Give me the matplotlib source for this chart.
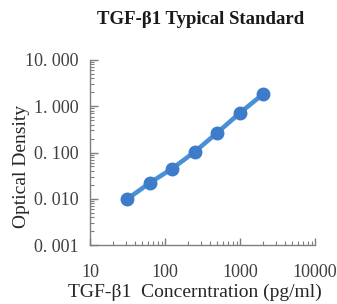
import matplotlib
matplotlib.use("Agg")
import matplotlib.pyplot as plt
from matplotlib.ticker import FixedLocator, FixedFormatter, LogLocator, NullFormatter

concentration = [31.25, 62.5, 125, 250, 500, 1000, 2000]
od = [0.0098, 0.022, 0.045, 0.104, 0.27, 0.72, 1.8]

y_ticks = [0.001, 0.01, 0.1, 1, 10]
y_labels = ["0. 001", "0. 010", "0. 100", "1. 000", "10. 000"]
x_ticks = [10, 100, 1000, 10000]
x_labels = ["10", "100", "1000", "10000"]

title = "TGF-\u03b21 Typical Standard"
xlabel = "TGF-\u03b21  Concerntration (pg/ml)"
ylabel = "Optical Density"

plt.rcParams['font.family'] = ['Liberation Serif', 'DejaVu Serif']

fig = plt.figure(figsize=(3.37, 3.04), dpi=100)
ax = fig.add_axes([90/337, 1-245/304, 225/337, 185/304])

ax.plot(concentration, od, color='#4a90d9', lw=3.3, marker='o', ms=9,
        mfc='#3d7cc9', mec='#3d7cc9', solid_capstyle='round', zorder=3)

ax.set_xscale('log')
ax.set_yscale('log')
ax.set_xlim(10, 10000)
ax.set_ylim(0.001, 10)

ax.xaxis.set_major_locator(FixedLocator(x_ticks))
ax.xaxis.set_major_formatter(FixedFormatter(x_labels))
ax.yaxis.set_major_locator(FixedLocator(y_ticks))
ax.yaxis.set_major_formatter(FixedFormatter(y_labels))
ax.xaxis.set_minor_locator(LogLocator(base=10, subs=range(2, 10)))
ax.yaxis.set_minor_locator(LogLocator(base=10, subs=range(2, 10)))
ax.xaxis.set_minor_formatter(NullFormatter())
ax.yaxis.set_minor_formatter(NullFormatter())

for s in ['top', 'right']:
    ax.spines[s].set_visible(False)
for s in ['left', 'bottom']:
    ax.spines[s].set_color('#7f7f7f')
    ax.spines[s].set_linewidth(1.0)

ax.tick_params(which='major', direction='in', length=6, width=1, color='#7f7f7f',
               labelsize=13, labelcolor='#404040', pad=8)
ax.tick_params(which='minor', direction='in', length=3, width=0.8, color='#7f7f7f')
ax.tick_params(axis='x', which='major', length=5, pad=14)
ax.tick_params(axis='x', which='minor', length=3)

fig.text(201/337, 1-20/304, title, ha='center', va='center', fontsize=13.5,
         fontweight='bold', color='#1a1a1a')
fig.text(195/337, 1-292/304, xlabel, ha='center', va='center', fontsize=14,
         color='#262626')
fig.text(22/337, 1-166/304, ylabel, ha='center', va='center', fontsize=14,
         rotation=90, color='#262626')

fig.savefig('out.png', dpi=100)
